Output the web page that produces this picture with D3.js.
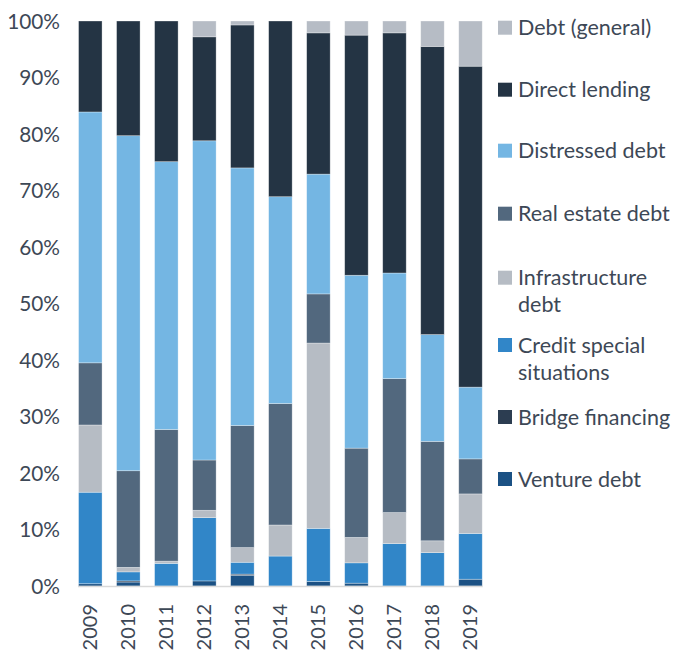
<!DOCTYPE html>
<html><head><meta charset="utf-8">
<script src="https://cdn.jsdelivr.net/npm/d3@7"></script>
<style>
html,body{margin:0;padding:0;background:#fff;}
svg{display:block;font-family:Lato,"Open Sans",sans-serif;}
</style></head>
<body>
<svg id="chart" width="674" height="651"></svg>
<script>
const years = ["2009","2010","2011","2012","2013","2014","2015","2016","2017","2018","2019"];
const seriesNames = ["Venture debt","Bridge financing","Credit special situations","Infrastructure debt","Real estate debt","Distressed debt","Direct lending","Debt (general)"];
const ventureDebt      = [0.4, 0.7, 0.0, 0.9, 1.9, 0.0, 0.8, 0.5, 0.0, 0.0, 1.2];
const bridgeFinancing  = [0.0, 0.2, 0.0, 0.0, 0.2, 0.0, 0.0, 0.0, 0.0, 0.0, 0.0];
const creditSpecial    = [16.2, 1.6, 4.0, 11.2, 2.1, 5.3, 9.4, 3.6, 7.5, 5.9, 8.1];
const infrastructure   = [11.9, 0.8, 0.4, 1.3, 2.6, 5.5, 32.8, 4.5, 5.5, 2.1, 7.0];
const realEstate       = [11.0, 17.1, 23.3, 8.9, 21.6, 21.5, 8.7, 15.8, 23.7, 17.6, 6.2];
const distressed       = [44.4, 59.3, 47.4, 56.5, 45.6, 36.6, 21.2, 30.6, 18.7, 18.9, 12.7];
const directLending    = [16.1, 20.3, 24.9, 18.4, 25.3, 31.1, 25.0, 42.5, 42.5, 51.0, 56.8];
const debtGeneral      = [0.0, 0.0, 0.0, 2.8, 0.7, 0.0, 2.1, 2.5, 2.1, 4.5, 8.0];
const yTicks = [0,10,20,30,40,50,60,70,80,90,100];

const colors = ["#1b5184","#2c3d51","#3186c8","#b6bcc4","#52687e","#74b6e3","#243444","#b6bcc5"];
const legendOrder = ["Debt (general)","Direct lending","Distressed debt","Real estate debt","Infrastructure debt","Credit special situations","Bridge financing","Venture debt"];
const legendLines = {"Infrastructure debt":["Infrastructure","debt"],"Credit special situations":["Credit special","situations"]};
const legendY = [27.7, 89.7, 150.7, 213.7, 277.7, 345, 417, 479];

const allSeries = [ventureDebt,bridgeFinancing,creditSpecial,infrastructure,realEstate,distressed,directLending,debtGeneral];
const table = years.map((y,i)=>{const o={year:y}; seriesNames.forEach((s,j)=>o[s]=allSeries[j][i]); return o;});

const svg = d3.select("#chart");
const x = d3.scaleBand().domain(years).range([71.3,489.5]).paddingInner(0.382).paddingOuter(0.191);
const y = d3.scaleLinear().domain([0,100]).range([586,21]);
const color = d3.scaleOrdinal().domain(seriesNames).range(colors);
const textColor = "#3d4856";

const stack = d3.stack().keys(seriesNames);
const stacked = stack(table);

svg.append("g").selectAll("g").data(stacked).join("g")
  .attr("fill", d=>color(d.key))
  .selectAll("rect").data(d=>d).join("rect")
  .attr("x", d=>x(d.data.year))
  .attr("width", x.bandwidth())
  .attr("y", d=>y(d[1]))
  .attr("height", d=>Math.max(0, y(d[0])-y(d[1])))
  .attr("stroke","#ffffff").attr("stroke-opacity",0.45).attr("stroke-width",0.7);

// baseline
svg.append("line").attr("x1",x(years[0])-0.5).attr("x2",x(years[years.length-1])+x.bandwidth()+0.5)
  .attr("y1",y(0)+0.5).attr("y2",y(0)+0.5).attr("stroke","#d9d9d9").attr("stroke-width",1.6);

// y axis
const yAxis = d3.axisLeft(y).tickValues(yTicks).tickFormat(d=>d+"%").tickSize(0).tickPadding(0);
const ya = svg.append("g").attr("transform","translate(60,0)").call(yAxis);
ya.select(".domain").remove();
ya.selectAll("text").attr("fill",textColor).attr("font-size","20.8px").attr("font-family","Lato,'Open Sans',sans-serif").attr("dy","0.35em");

// x axis
const xAxis = d3.axisBottom(x).tickSize(0).tickPadding(0);
const xa = svg.append("g").attr("transform","translate(0,604)").call(xAxis);
xa.select(".domain").remove();
xa.selectAll("text").attr("fill",textColor).attr("font-size","20px").attr("font-family","Lato,'Open Sans',sans-serif")
  .attr("transform","rotate(-90)").attr("text-anchor","end").attr("x",0).attr("y",0).attr("dy","0.35em").attr("dx","0");

// legend
const lg = svg.append("g");
legendOrder.forEach((name,i)=>{
  const cy = legendY[i];
  lg.append("rect").attr("x",498).attr("y",cy-7).attr("width",14).attr("height",14).attr("fill",color(name));
  const lines = legendLines[name] || [name];
  lines.forEach((t,k)=>{
    lg.append("text").attr("x",518).attr("y",cy+k*27).attr("dy","0.35em")
      .attr("fill",textColor).attr("font-size","21.5px").text(t);
  });
});
</script>
</body></html>
